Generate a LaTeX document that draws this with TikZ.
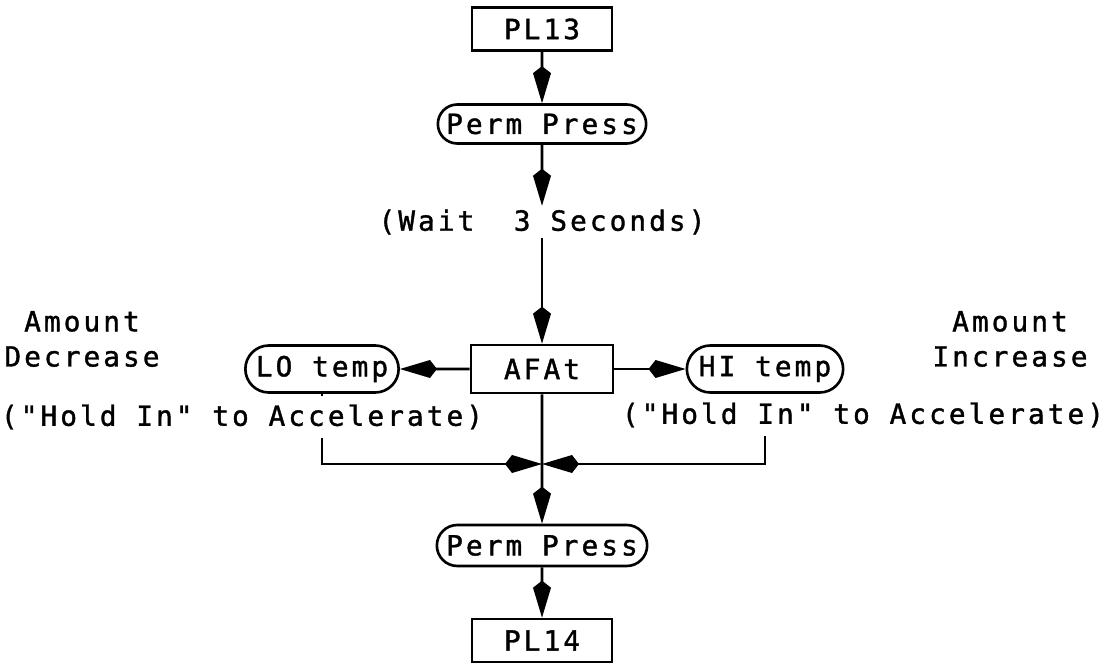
\documentclass[tikz,border=0pt]{standalone}
\usepackage{fontspec}
\newfontfamily\keyfont{DejaVu Sans Mono}[LetterSpace=11, FakeBold=1.3]
\usetikzlibrary{arrows.meta, shapes.misc}
\tikzstyle{panel} = [rectangle, minimum width=2.8cm, minimum height=0.86cm, text centered, draw=black, line width=1.5pt, font=\keyfont\fontsize{15.8}{19}\selectfont]
\tikzstyle{keypress} = [rounded rectangle, minimum width=4.4cm, minimum height=0.78cm, inner ysep=1pt, text centered, draw=black, line width=1.5pt, font=\keyfont\fontsize{15.8}{19}\selectfont]
\tikzstyle{note} = [inner sep=2pt, align=center, font=\keyfont\fontsize{15.8}{20}\selectfont]
\tikzstyle{arrow} = [line width=1.5pt, -{Kite[length=0.74cm, width=0.36cm, inset=0.14cm]}]

\begin{document}
\begin{tikzpicture}[node distance=1.9cm]
    \useasboundingbox (0,0) rectangle (22.12,-13.32);

        % Nodes
        \node (pl13) [panel] at (10.84,-0.58) {PL13};
        \node (perm1) [keypress, below of=pl13] {Perm Press};
        \node (wait) [note, below of=perm1, yshift=-0.06cm] {(Wait\ \ 3 Seconds)};
        \node (afat) [panel, below of=wait, yshift=-1.04cm, minimum width=2.84cm, minimum height=0.96cm] {AFAt};
        \node (lo) [keypress, left of=afat, xshift=-2.5cm, minimum width=3.3cm, minimum height=0.94cm] {LO temp};
        \node (hi) [keypress, right of=afat, xshift=2.56cm, minimum width=3.36cm, minimum height=0.94cm] {HI temp};
        \coordinate [below of=afat] (join);
        \node (perm2) [keypress, below of=afat, yshift=-1.63cm, minimum width=4.44cm, minimum height=0.82cm] {Perm Press};
        \node (pl14) [panel, below of=perm2] {PL14};
        \node (less) [note, left of=lo, node distance=4.8cm, yshift=0.6cm] {Amount\\Decrease};
        \node (more) [note, right of=hi, node distance=4.9cm, yshift=0.6cm] {Amount\\Increase};

        % Arrows
        \draw [arrow] (pl13) -- (perm1);
        \draw [arrow] (perm1) -- (wait);
        \draw [arrow] (wait) -- (afat);
        \draw [arrow] (afat) -- (lo);
        \draw [arrow] (afat) -- (hi);
        \draw [arrow] (afat) -- (perm2);
        \draw [arrow] (lo) |- (join);
        \draw [arrow] (hi) |- (join);
        \draw [arrow] (perm2) -- (pl14);

        % Notes over the lines
        \node (holdlo) [note, fill=white, inner ysep=5pt, below of=lo, node distance=0.96cm, xshift=-1.6cm] {("Hold In" to Accelerate)};
        \node (holdhi) [note, fill=white, inner ysep=5pt, below of=hi, node distance=0.92cm, xshift=1.96cm] {("Hold In" to Accelerate)};

    \end{tikzpicture}
\end{document}
